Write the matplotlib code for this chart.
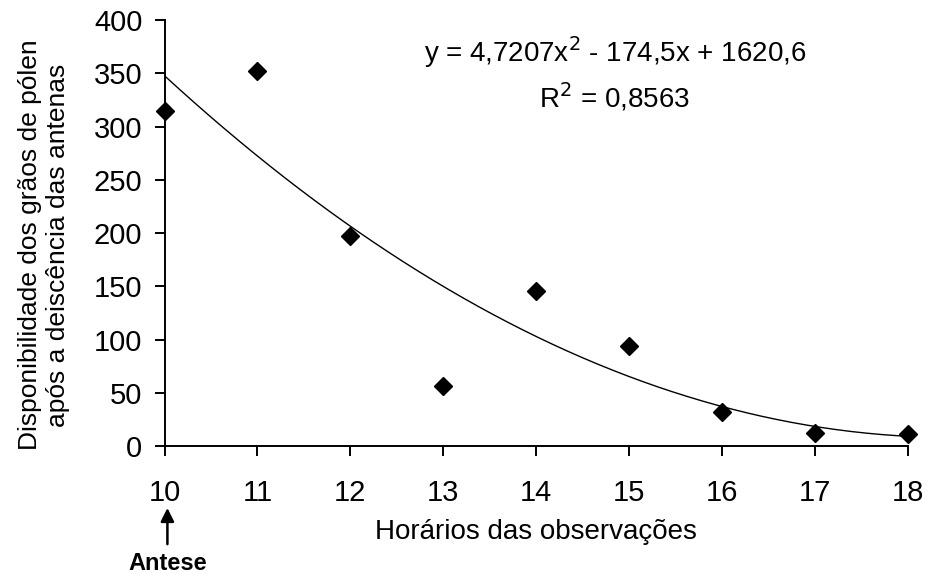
import numpy as np
import matplotlib
matplotlib.use('Agg')
import matplotlib.pyplot as plt

plt.rcParams['font.family'] = ['Liberation Sans', 'DejaVu Sans']

# data
hours = [10, 11, 12, 13, 14, 15, 16, 17, 18]
pollen = [315, 352, 197, 56, 146, 94, 32, 12, 11]
# trendline coefficients as printed on the chart (a*x^2 + b*x + c)
trend_coef = [4.7207, -174.5, 1620.6]
x_ticks = [10, 11, 12, 13, 14, 15, 16, 17, 18]
y_ticks = [0, 50, 100, 150, 200, 250, 300, 350, 400]

fig = plt.figure(figsize=(9.3, 5.74), dpi=100)
ax = fig.add_axes([0.177, 0.223, 0.799, 0.742])

xs = np.linspace(hours[0], hours[-1], 200)
ax.plot(xs, np.polyval(trend_coef, xs), color='black', linewidth=1.0)
ax.plot(hours, pollen, linestyle='none', marker='D', markersize=9.5,
        color='black', clip_on=False, zorder=3)

ax.set_xlim(10, 18)
ax.set_ylim(0, 400)
ax.set_xticks(x_ticks)
ax.set_yticks(y_ticks)
ax.tick_params(labelsize=21, length=7, width=1.4, direction='out')
ax.tick_params(axis='x', pad=17)
ax.tick_params(axis='y', pad=9)
for s in ['top', 'right']:
    ax.spines[s].set_visible(False)
for s in ['left', 'bottom']:
    ax.spines[s].set_linewidth(1.4)

ax.set_xlabel('Horários das observações', fontsize=20)
ax.xaxis.set_label_coords(0.5, -0.172)
ax.set_ylabel('Disponibilidade dos grãos de pólen\napós a deiscência das antenas',
              fontsize=19, linespacing=1.2)
ax.yaxis.set_label_coords(-0.127, 0.472)

ax.text(0.606, 0.925, r'y = 4,7207x$^2$ - 174,5x + 1620,6', transform=ax.transAxes,
        ha='center', va='center', fontsize=20)
ax.text(0.606, 0.819, r'R$^2$ = 0,8563', transform=ax.transAxes,
        ha='center', va='center', fontsize=20)

ax.annotate('', xy=(10.03, -0.139), xycoords=('data', 'axes fraction'),
            xytext=(10.03, -0.237), textcoords=('data', 'axes fraction'),
            arrowprops=dict(arrowstyle='-|>', color='black', lw=1.8,
                            mutation_scale=20))
ax.annotate('Antese', xy=(10.03, -0.275), xycoords=('data', 'axes fraction'),
            ha='center', va='center', fontsize=17, fontweight='bold',
            annotation_clip=False)

fig.savefig('out.png', dpi=100)
